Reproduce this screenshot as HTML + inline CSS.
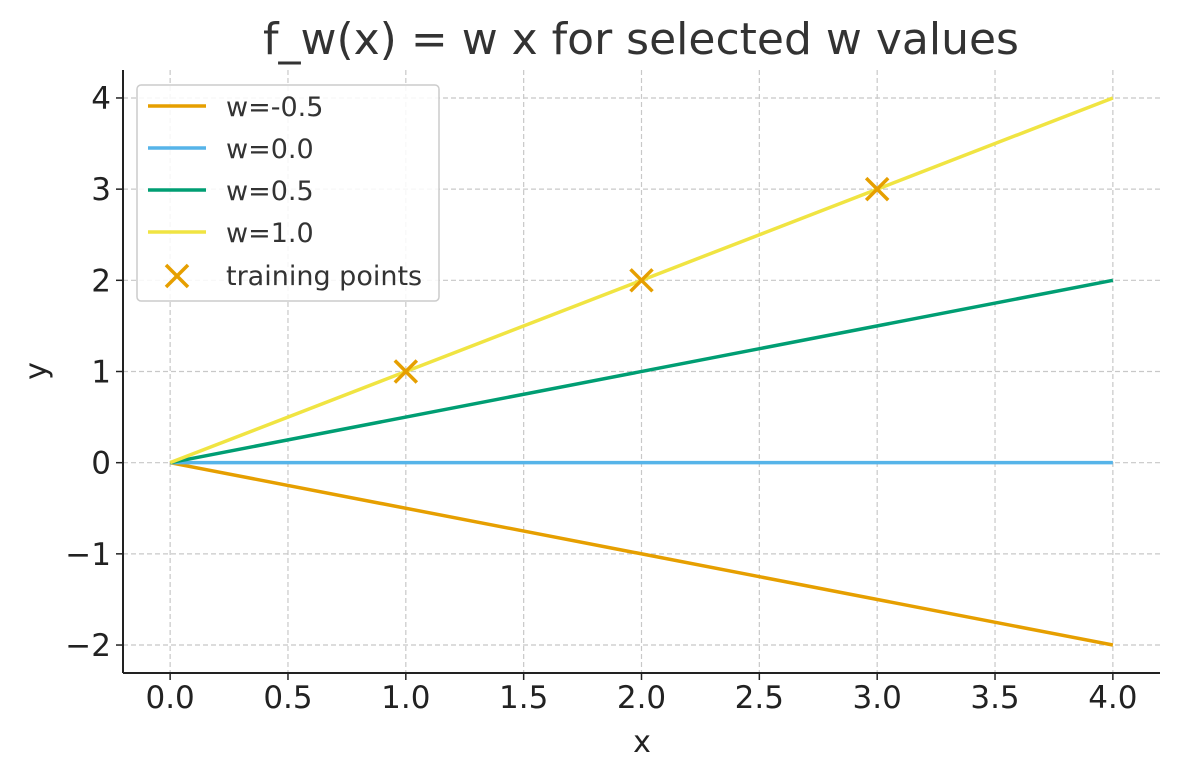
<!DOCTYPE html>
<html><head><meta charset="utf-8"><style>
html,body{margin:0;padding:0;background:#fff;}
svg{display:block;font-family:"DejaVu Sans","Liberation Sans",sans-serif;}
</style></head><body>
<svg id="chart" width="1180" height="780" viewBox="0 0 1180 780">
<text x="641" y="54" text-anchor="middle" font-size="44" fill="#333">f_w(x) = w x for selected w values</text>
<g id="grid"></g>
<g id="series"></g>
<g id="axes"></g>
<text x="642" y="752" text-anchor="middle" font-size="30" fill="#222">x</text>
<text transform="translate(46,371) rotate(-90)" text-anchor="middle" font-size="30" fill="#222">y</text>
<g id="legend"></g>
</svg>
<script>
const weights = [-0.5, 0.0, 0.5, 1.0];
const seriesLabels = ["w=-0.5","w=0.0","w=0.5","w=1.0"];
const seriesColors = ["#E69F00","#56B4E9","#009E73","#F0E442"];
const lineX = [0, 4];
const pointsX = [1, 2, 3];
const pointsY = [1, 2, 3];
const xTicks = [0,0.5,1,1.5,2,2.5,3,3.5,4];
const xTickLabels = ["0.0","0.5","1.0","1.5","2.0","2.5","3.0","3.5","4.0"];
const yTicks = [-2,-1,0,1,2,3,4];
const yTickLabels = ["\u22122","\u22121","0","1","2","3","4"];

const NS="http://www.w3.org/2000/svg";
const L=123,R=1160,T=70,B=673;
const xmin=-0.2,xmax=4.2,ymin=-2.3068,ymax=4.3068;
const sx=v=>L+(v-xmin)/(xmax-xmin)*(R-L);
const sy=v=>B-(v-ymin)/(ymax-ymin)*(B-T);
function mk(tag,attrs,parent){const e=document.createElementNS(NS,tag);for(const k in attrs)e.setAttribute(k,attrs[k]);parent.appendChild(e);return e;}
const grid=document.getElementById('grid'),axes=document.getElementById('axes'),ser=document.getElementById('series'),leg=document.getElementById('legend');
xTicks.forEach((t,i)=>{
 const g=mk('line',{x1:sx(t),x2:sx(t),y1:T,y2:B,stroke:'#c8c8c8','stroke-width':1.2,'stroke-dasharray':'5,3'},grid);
 
 
 mk('line',{x1:sx(t),x2:sx(t),y1:B,y2:B+7,stroke:'#222','stroke-width':1.5},axes);
 const tx=mk('text',{x:sx(t),y:B+35,'text-anchor':'middle','font-size':31,fill:'#222'},axes);
 tx.textContent=xTickLabels[i];
 
 
});
yTicks.forEach((t,i)=>{
 const g=mk('line',{x1:L,x2:R,y1:sy(t),y2:sy(t),stroke:'#c8c8c8','stroke-width':1.2,'stroke-dasharray':'5,3'},grid);
 
 
 mk('line',{x1:L-7,x2:L,y1:sy(t),y2:sy(t),stroke:'#222','stroke-width':1.5},axes);
 const tx=mk('text',{x:L-12,y:sy(t)+11,'text-anchor':'end','font-size':31,fill:'#222'},axes);
 tx.textContent=yTickLabels[i];
 
 
});
mk('line',{x1:L,x2:L,y1:T,y2:B,stroke:'#222','stroke-width':2},axes);
mk('line',{x1:L,x2:R,y1:B,y2:B,stroke:'#222','stroke-width':2},axes);
weights.forEach((w,i)=>{
 const p=mk('line',{x1:sx(lineX[0]),y1:sy(w*lineX[0]),x2:sx(lineX[1]),y2:sy(w*lineX[1]),stroke:seriesColors[i],'stroke-width':3.5},ser);
 
 
});
function cross(cx,cy,s,parent){
 const g=mk('g',{stroke:'#E69F00','stroke-width':3.5},parent);
 mk('line',{x1:cx-s,y1:cy-s,x2:cx+s,y2:cy+s},g);
 mk('line',{x1:cx-s,y1:cy+s,x2:cx+s,y2:cy-s},g);
 return g;
}
pointsX.forEach((x,i)=>{
 const g=cross(sx(x),sy(pointsY[i]),11,ser);
 
 
});
mk('rect',{x:137,y:85,width:302,height:216,rx:4,fill:'#fff','fill-opacity':0.85,stroke:'#ccc','stroke-width':1.5},leg);
seriesLabels.forEach((lab,i)=>{
 const y=106+i*42;
 const e=mk('g',{},leg);
 
 
 mk('line',{x1:148,x2:206,y1:y,y2:y,stroke:seriesColors[i],'stroke-width':3.5},e);
 const t=mk('text',{x:226,y:y+10,'font-size':27,fill:'#333'},e);t.textContent=lab;
});
const pe=mk('g',{},leg);


cross(177,276,11,pe);
const pt=mk('text',{x:226,y:285,'font-size':27,fill:'#333'},pe);pt.textContent='training points';
</script>
</body></html>
